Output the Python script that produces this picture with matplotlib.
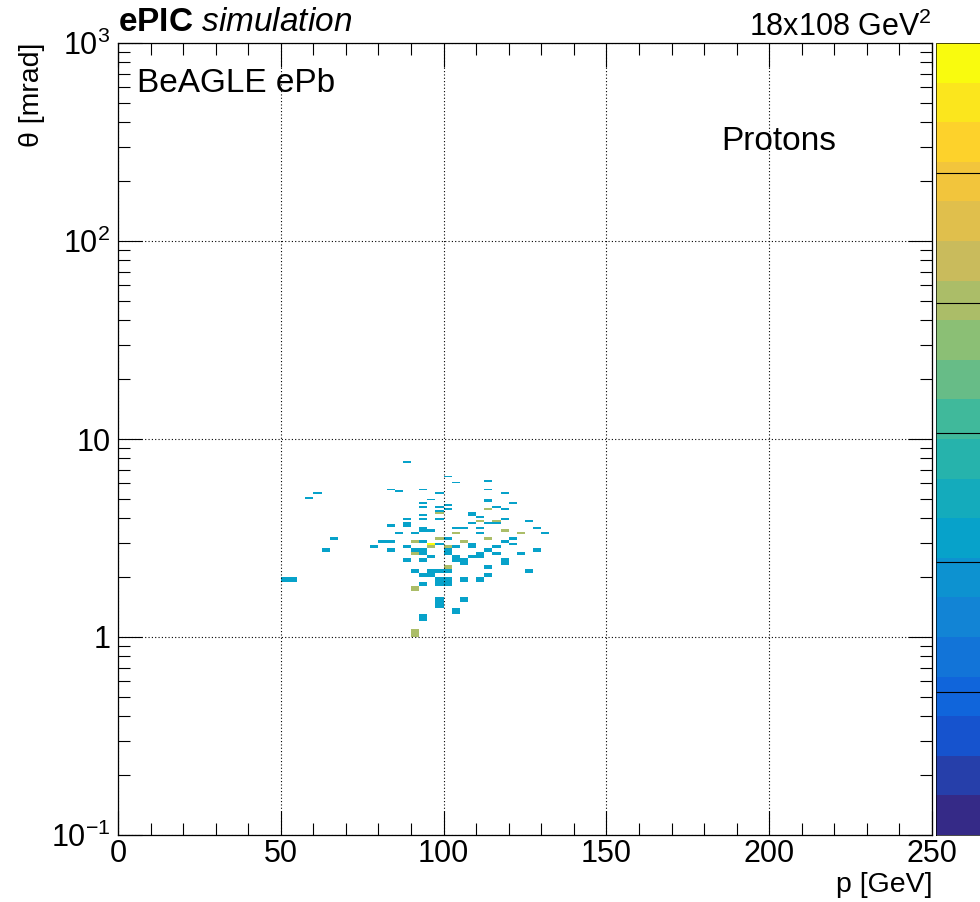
import numpy as np
import matplotlib
matplotlib.use('Agg')
import matplotlib.pyplot as plt
import matplotlib.colors as mcolors
from matplotlib.ticker import FixedLocator, NullFormatter

plt.rcParams['font.family'] = ['Liberation Sans', 'DejaVu Sans']
plt.rcParams['mathtext.fontset'] = 'custom'
plt.rcParams['mathtext.rm'] = 'Liberation Sans'
plt.rcParams['mathtext.it'] = 'Liberation Sans:italic'
plt.rcParams['mathtext.bf'] = 'Liberation Sans:bold'

# filled cells: lower bin edge in p [GeV], lower bin edge in theta [mrad], counts
cell_p = [87.5, 100, 102.5, 112.5, 60, 57.5, 82.5, 85, 92.5, 97.5,
          112.5, 117.5, 95, 92.5, 92.5, 97.5, 100, 100, 112.5, 112.5,
          115, 117.5, 120, 97.5, 97.5, 107.5, 107.5, 110, 92.5, 87.5,
          92.5, 97.5, 112.5, 110, 115, 115, 117.5, 125, 87.5, 87.5,
          82.5, 92.5, 92.5, 95, 102.5, 105, 107.5, 110, 112.5, 117.5,
          127.5, 85, 90, 102.5, 110, 122.5, 130, 65, 80, 82.5,
          90, 92.5, 95, 95, 97.5, 97.5, 100, 100, 105, 107.5,
          107.5, 112.5, 117.5, 120, 120, 77.5, 62.5, 82.5, 87.5, 90,
          90, 92.5, 92.5, 102.5, 112.5, 115, 115, 122.5, 127.5, 100,
          100, 95, 87.5, 92.5, 102.5, 102.5, 105, 105, 107.5, 110,
          110, 117.5, 117.5, 100, 112.5, 90, 92.5, 95, 95, 97.5,
          100, 125, 112.5, 50, 52.5, 97.5, 97.5, 100, 100, 105,
          110, 90, 92.5, 97.5, 97.5, 105, 102.5, 92.5, 90]
cell_theta = [7.6, 6.4, 6.0, 6.1, 5.3, 5.0, 5.5, 5.4, 5.5, 5.3,
              5.5, 5.3, 4.9, 4.7, 4.5, 4.5, 4.6, 4.4, 4.8, 4.9,
              4.5, 4.4, 4.7, 4.3, 4.2, 4.1, 4.2, 4.0, 4.1, 3.9,
              3.9, 3.9, 4.4, 3.8, 3.8, 3.7, 3.9, 3.8, 3.7, 3.6,
              3.6, 3.5, 3.4, 3.4, 3.5, 3.5, 3.7, 3.5, 3.7, 3.4,
              3.5, 3.3, 3.3, 3.3, 3.3, 3.3, 3.3, 3.1, 3.0, 3.0,
              3.0, 3.0, 2.9, 2.8, 3.1, 2.9, 3.1, 2.8, 3.0, 2.9,
              2.8, 3.1, 3.0, 3.1, 2.9, 2.8, 2.7, 2.7, 2.8, 2.7,
              2.6, 2.7, 2.6, 2.8, 2.7, 2.8, 2.6, 2.6, 2.7, 2.7,
              2.6, 2.5, 2.4, 2.4, 2.5, 2.4, 2.4, 2.3, 2.5, 2.5,
              2.6, 2.4, 2.3, 2.2, 2.2, 2.1, 2.0, 2.0, 2.1, 2.1,
              2.1, 2.1, 2.0, 1.9, 1.9, 1.9, 1.8, 1.9, 1.8, 1.9,
              1.9, 1.7, 1.8, 1.5, 1.4, 1.5, 1.3, 1.2, 1.0]
cell_n = [1, 1, 1, 1, 1, 1, 1, 1, 1, 1,
          1, 1, 1, 1, 1, 1, 1, 1, 1, 1,
          1, 1, 1, 1, 2, 1, 1, 1, 1, 1,
          1, 1, 2, 2, 2, 1, 1, 1, 1, 1,
          1, 1, 1, 1, 1, 1, 1, 1, 1, 2,
          1, 1, 1, 2, 1, 2, 1, 1, 1, 1,
          2, 1, 3, 2, 2, 1, 1, 2, 2, 1,
          1, 2, 1, 1, 1, 1, 1, 1, 1, 1,
          2, 1, 1, 1, 1, 1, 1, 1, 1, 1,
          1, 1, 1, 1, 1, 1, 1, 1, 1, 1,
          1, 1, 1, 2, 1, 1, 1, 1, 1, 1,
          1, 1, 1, 1, 1, 1, 1, 1, 1, 1,
          1, 2, 1, 1, 1, 1, 1, 1, 2]

x_ticks = [0, 50, 100, 150, 200, 250]
y_ticks = [0.1, 1, 10, 100, 1000]
y_ticklabels = [r'$10^{-1}$', '1', '10', r'$10^{2}$', r'$10^{3}$']

p_bw, th_bw = 2.5, 0.1
xedges = np.linspace(0, 250, 101)
yedges = np.round(np.arange(1, 101) * th_bw, 1)

H, _, _ = np.histogram2d(np.array(cell_p) + p_bw / 2, np.array(cell_theta) + th_bw / 2,
                         bins=[xedges, yedges], weights=cell_n)
H = np.ma.masked_equal(H.T, 0)

# ROOT kBird palette, 20 contour levels
stops = [0.0, 0.125, 0.25, 0.375, 0.5, 0.625, 0.75, 0.875, 1.0]
red = [0.2082, 0.0592, 0.0780, 0.0232, 0.1802, 0.5301, 0.8186, 0.9956, 0.9764]
green = [0.1664, 0.3599, 0.5041, 0.6419, 0.7178, 0.7492, 0.7328, 0.7862, 0.9832]
blue = [0.5293, 0.8684, 0.8385, 0.7914, 0.6425, 0.4662, 0.3499, 0.1968, 0.0539]
bird = mcolors.LinearSegmentedColormap.from_list(
    'bird', list(zip(stops, zip(red, green, blue))))
cmap = mcolors.ListedColormap(bird(np.linspace(0, 1, 20)))
norm = mcolors.Normalize(vmin=-0.27, vmax=3.07)

fig = plt.figure(figsize=(9.8, 9.02), dpi=100)
ax = fig.add_axes([118 / 980, 1 - 835 / 902, 814 / 980, 792 / 902])
mesh = ax.pcolormesh(xedges, yedges, H, cmap=cmap, norm=norm, antialiased=False)

ax.set_yscale('log')
ax.set_xlim(0, 250)
ax.set_ylim(0.1, 1000)
ax.set_xticks(x_ticks)
ax.set_xticklabels([str(t) for t in x_ticks])
ax.xaxis.set_minor_locator(FixedLocator(np.arange(0, 251, 10)))
ax.yaxis.set_major_locator(FixedLocator(y_ticks))
ax.set_yticklabels(y_ticklabels)
ax.yaxis.set_minor_locator(FixedLocator(
    [m * 10.0 ** e for e in range(-1, 3) for m in range(2, 10)]))
ax.yaxis.set_minor_formatter(NullFormatter())

ax.tick_params(which='both', direction='in', top=True, right=True, width=0.8)
ax.tick_params(which='major', length=17.5)
ax.tick_params(which='minor', length=8.5)
ax.tick_params(axis='x', labelsize=22, pad=3)
ax.tick_params(axis='y', labelsize=22, pad=5.5)
for s in ax.spines.values():
    s.set_linewidth(0.9)
ax.grid(True, which='major', color='black', linestyle=(0, (1, 2)), linewidth=0.8)

# palette on the right, cut by the canvas edge
cax = fig.add_axes([936 / 980, 1 - 835 / 902, 0.06, 792 / 902])
cb = fig.colorbar(mesh, cax=cax)
cb.outline.set_linewidth(0.5)
cb.set_ticks(norm.vmin + np.array([0.181, 0.345, 0.508, 0.672, 0.836]) * (norm.vmax - norm.vmin))
cax.yaxis.set_ticks_position('left')
cax.tick_params(axis='y', which='both', direction='in', length=40, width=0.8,
                labelleft=False, labelright=False)
cax.minorticks_off()

fig.text(118 / 980, 1 - 31 / 902, r'$\mathbf{ePIC}$ $\mathit{simulation}$',
         fontsize=24, ha='left', va='baseline')
fig.text(932 / 980, 1 - 36 / 902, r'18x108 GeV$^{2}$', fontsize=22,
         ha='right', va='baseline')
fig.text(137 / 980, 1 - 92 / 902, 'BeAGLE ePb', fontsize=24, ha='left', va='baseline')
fig.text(721 / 980, 1 - 150 / 902, 'Protons', fontsize=24, ha='left', va='baseline')
fig.text(32 / 980, 1 - 43 / 902, r'θ [mrad]', fontsize=20.5, rotation=90,
         ha='center', va='top')
fig.text(932 / 980, 1 - 892 / 902, 'p [GeV]', fontsize=20.5, ha='right', va='baseline')

fig.savefig('out.png', dpi=100)
